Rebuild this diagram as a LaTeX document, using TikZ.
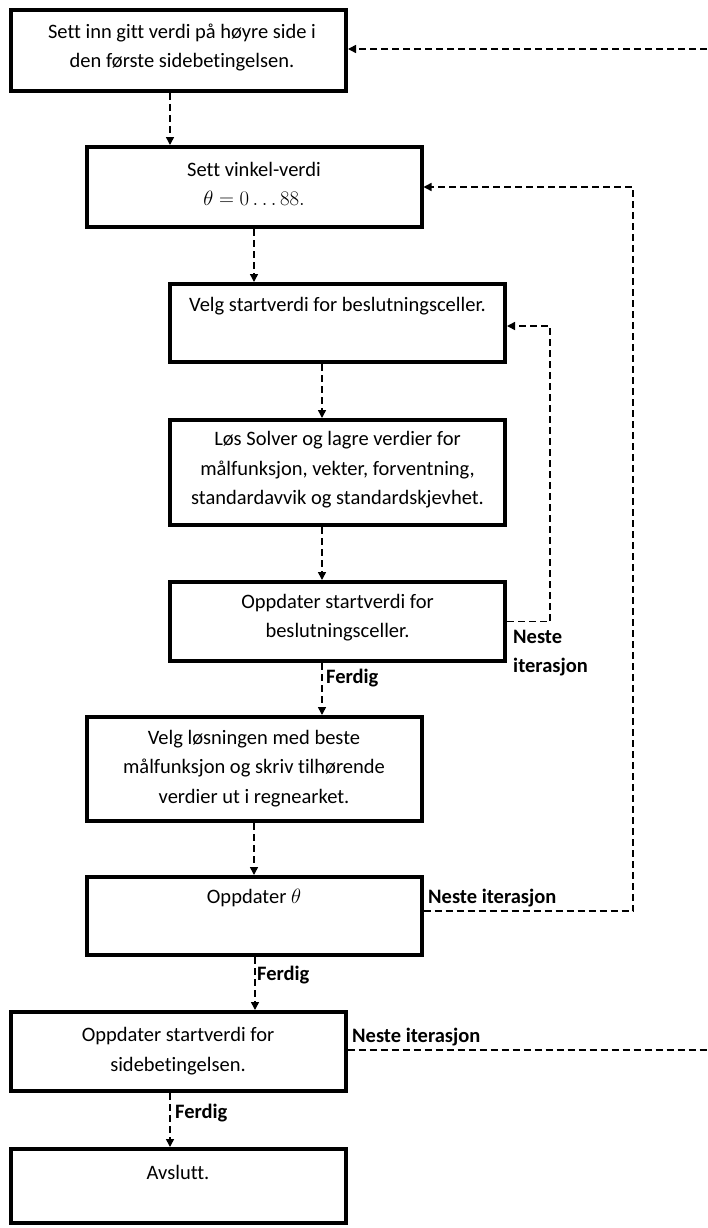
\documentclass[tikz,border=0pt]{standalone}
\usepackage{fontspec}
\setmainfont{Carlito}[Ligatures=NoCommon]
\usetikzlibrary{arrows.meta}
\begin{document}
\begin{tikzpicture}[x=1pt,y=-1pt,
  box/.style={draw, line width=4pt, minimum width=335pt, inner sep=0pt, fill=white},
  txt/.style={align=center, inner sep=0pt, font=\fontsize{20.5}{29.5}\selectfont},
  lbl/.style={inner sep=0pt, anchor=west, align=left, font=\fontsize{20.5}{29}\selectfont\bfseries},
  conn/.style={line width=1.5pt, dash pattern=on 7pt off 4pt},
  arr/.style={conn, -{Triangle[length=8pt,width=8pt]}}]
\useasboundingbox (0,0) rectangle (707,1228);
% boxes
\node[box, minimum height=81pt]  (b1) at (178.5,50.5) {};
\node[box, minimum height=80pt]  (b2) at (254,187) {};
\node[box, minimum height=78pt]  (b3) at (337.5,323) {};
\node[box, minimum height=105pt] (b4) at (337.5,472.5) {};
\node[box, minimum height=79pt]  (b5) at (337.5,621.5) {};
\node[box, minimum height=104pt] (b6) at (254,769) {};
\node[box, minimum height=78pt]  (b7) at (254,916) {};
\node[box, minimum height=79pt]  (b8) at (178,1051.5) {};
\node[box, minimum height=74pt]  (b9) at (178,1186) {};
% texts
\node[txt] (t1) at (182,47.5) {Sett inn gitt verdi på høyre side i\\den første sidebetingelsen.};
\node[txt] (t2) at (254,183.75) {Sett vinkel-verdi\\$\theta = 0 \ldots 88.$};
\node[txt] (t3) at (337.5,306) {Velg startverdi for beslutningsceller.};
\node[txt] (t4) at (337.5,470) {Løs Solver og lagre verdier for\\målfunksjon, vekter, forventning,\\standardavvik og standardskjevhet.};
\node[txt] (t5) at (337.5,617.5) {Oppdater startverdi for\\beslutningsceller.};
\node[txt] (t6) at (254,768.5) {Velg løsningen med beste\\målfunksjon og skriv tilhørende\\verdier ut i regnearket.};
\node[txt] (t7) at (254,898) {Oppdater $\theta$};
\node[txt] (t8) at (178,1051) {Oppdater startverdi for\\sidebetingelsen.};
\node[txt] (t9) at (178,1172) {Avslutt.};
% main flow
\coordinate (a1) at ([xshift=-8.5pt]b1.south);
\coordinate (a2) at (b2.south);
\coordinate (a3) at ([xshift=-15.5pt]b3.south);
\coordinate (a4) at ([xshift=-15.5pt]b4.south);
\coordinate (a5) at ([xshift=-15.5pt]b5.south);
\coordinate (a6) at (b6.south);
\coordinate (a7) at ([xshift=1pt]b7.south);
\coordinate (a8) at ([xshift=-8pt]b8.south);
\draw[arr] (a1) -- (a1 |- b2.north);
\draw[arr] (a2) -- (a2 |- b3.north);
\draw[arr] (a3) -- (a3 |- b4.north);
\draw[arr] (a4) -- (a4 |- b5.north);
\draw[arr] (a5) -- (a5 |- b6.north);
\draw[arr] (a6) -- (a6 |- b7.north);
\draw[arr] (a7) -- (a7 |- b8.north);
\draw[arr] (a8) -- (a8 |- b9.north);
% feedback loops
\coordinate (r1) at (707,49);
\coordinate (r8) at (707,1050);
\draw[arr] (r1) -- (r1 -| b1.east);
\draw[conn] (r8 -| b8.east) -- (r8);
\coordinate (s7) at ([yshift=5pt]b7.east);
\coordinate (c2) at (633,187);
\draw[arr] (s7) -| (c2) -- (b2.east);
\coordinate (c3) at (550,326);
\draw[arr] (b5.east) -| (c3) -- (c3 -| b3.east);
% labels
\node[lbl] (n1) at (428,898) {Neste iterasjon};
\node[lbl] (n2) at (513,653.5) {Neste\\iterasjon};
\node[lbl] (n3) at (352,1037) {Neste iterasjon};
\node[lbl] (f1) at (326,678) {Ferdig};
\node[lbl] (f2) at (257,975) {Ferdig};
\node[lbl] (f3) at (175,1113) {Ferdig};
\end{tikzpicture}
\end{document}
